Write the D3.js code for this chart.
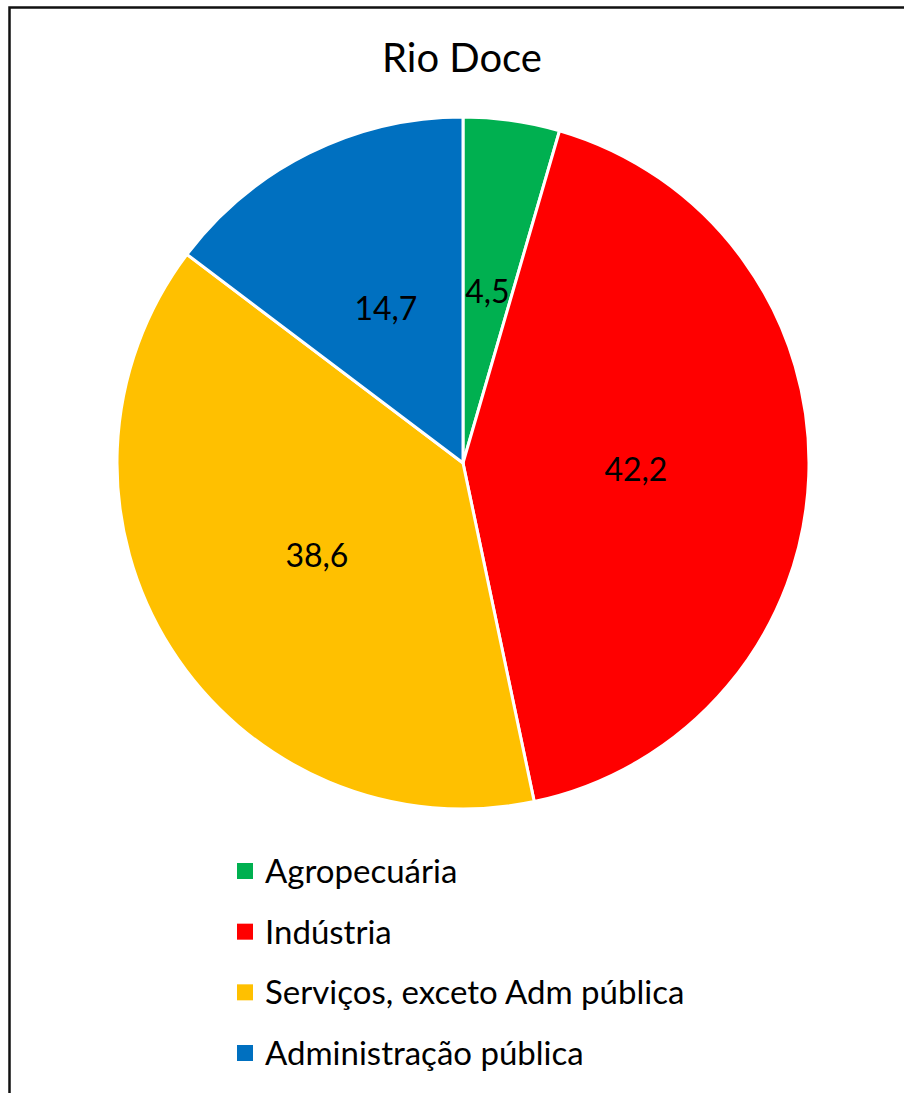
<!DOCTYPE html>
<html>
<head>
<meta charset="utf-8">
<script src="https://cdn.jsdelivr.net/npm/d3@7"></script>
<style>
  body { margin: 0; background: #fff; }
  svg { display: block; font-family: Lato, "Open Sans", sans-serif; }
</style>
</head>
<body>
<div id="chart-area"></div>
<script>
const WIDTH = 904
const HEIGHT = 1093

// sector shares (%) for Rio Doce
const sectors = ["Agropecuária", "Indústria", "Serviços, exceto Adm pública", "Administração pública"]
const shares = [4.5, 42.2, 38.6, 14.7]
const colors = ["#00B050", "#FF0000", "#FFC000", "#0070C0"]

const CENTER = {X: 463, Y: 463}
const RADIUS = 346

const svg = d3.select("#chart-area").append("svg")
  .attr("width", WIDTH)
  .attr("height", HEIGHT)

// chart frame, runs off the right and bottom edges
svg.append("rect")
  .attr("x", 9.5)
  .attr("y", 7.5)
  .attr("width", 1000)
  .attr("height", 1200)
  .attr("fill", "none")
  .attr("stroke", "#111")
  .attr("stroke-width", 2.5)

svg.append("text")
  .attr("x", 462)
  .attr("y", 72)
  .attr("text-anchor", "middle")
  .attr("font-size", "40px")
  .text("Rio Doce")

const data = sectors.map((s, i) => ({name: s, value: shares[i], color: colors[i]}))

const pie = d3.pie().sort(null).value(d => d.value)
const arc = d3.arc().innerRadius(0).outerRadius(RADIUS)

const g = svg.append("g")
  .attr("transform", `translate(${CENTER.X}, ${CENTER.Y})`)

const slices = g.selectAll("g.slice").data(pie(data))
  .enter().append("g")
  .attr("class", "slice")

slices.append("path")
  .attr("d", arc)
  .attr("fill", d => d.data.color)
  .attr("stroke", "#fff")
  .attr("stroke-width", 3)

const fmt = v => d3.format(".1f")(v).replace(".", ",")

slices.append("text")
  .attr("transform", d => `translate(${arc.centroid(d)})`)
  .attr("text-anchor", "middle")
  .attr("dy", "0.36em")
  .attr("font-size", "32px")
  .text(d => fmt(d.data.value))

// legend
const y = d3.scalePoint()
  .domain(sectors)
  .range([883, 1065])

const legend = svg.append("g")

const rows = legend.selectAll("g").data(data)
  .enter().append("g")
  .attr("transform", d => `translate(0, ${y(d.name)})`)

rows.append("rect")
  .attr("x", 237)
  .attr("y", -20)
  .attr("width", 16)
  .attr("height", 16)
  .attr("fill", d => d.color)

rows.append("text")
  .attr("x", 265)
  .attr("y", 0)
  .attr("font-size", "33px")
  .text(d => d.name)
</script>
</body>
</html>
